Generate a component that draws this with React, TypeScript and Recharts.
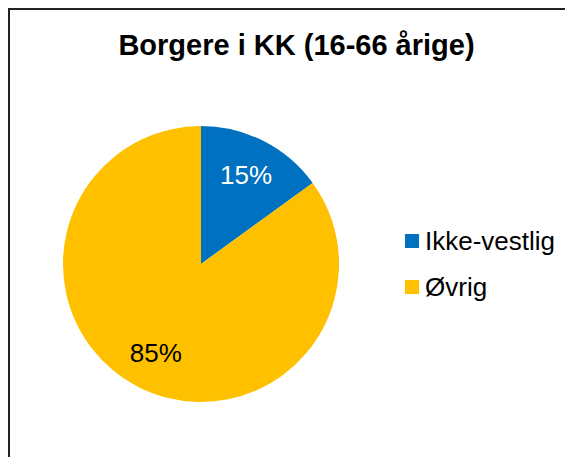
import { PieChart, Pie, Cell, Legend } from "recharts";

const categories = ["Ikke-vestlig", "Øvrig"];
const shares = [15, 85];
const sliceColors = ["#0070C0", "#FFC000"];
const labelColors = ["#ffffff", "#000000"];

const data = categories.map((name, i) => ({ name, value: shares[i] }));

const FONT = "'Liberation Sans', Arial, sans-serif";
const RAD = Math.PI / 180;

const renderLabel = (props: any) => {
    const { cx, cy, midAngle, outerRadius, percent, index } = props;
    const r = outerRadius * 0.72;
    const x = cx + r * Math.cos(-midAngle * RAD);
    const y = cy + r * Math.sin(-midAngle * RAD);
    return (
        <text
            x={x}
            y={y}
            fill={labelColors[index]}
            fontSize={26}
            fontFamily={FONT}
            textAnchor="middle"
            dominantBaseline="central"
        >
            {`${Math.round(percent * 100)}%`}
        </text>
    );
};

const renderLegend = (props: any) => {
    const { payload } = props;
    return (
        <div style={{ fontFamily: FONT }}>
            {payload.map((entry: any, i: number) => (
                <div key={i} style={{ display: "flex", alignItems: "center", height: 46 }}>
                    <span
                        style={{
                            display: "inline-block",
                            width: 14,
                            height: 14,
                            background: sliceColors[i],
                            marginRight: 6,
                        }}
                    />
                    <span style={{ fontSize: 26, color: "#000" }}>{entry.value}</span>
                </div>
            ))}
        </div>
    );
};

export default function App() {
    return (
        <div
            style={{
                position: "relative",
                width: 565,
                height: 449,
                boxSizing: "border-box",
                borderLeft: "2px solid #222",
                borderTop: "2px solid #222",
                background: "#fff",
            }}
        >
            <div
                style={{
                    position: "absolute",
                    left: 0,
                    width: 573,
                    top: 19,
                    textAlign: "center",
                    fontFamily: FONT,
                    fontWeight: "bold",
                    fontSize: 29,
                    color: "#000",
                }}
            >
                Borgere i KK (16-66 årige)
            </div>
            <PieChart width={563} height={447}>
                <Pie
                    data={data}
                    dataKey="value"
                    nameKey="name"
                    cx={186}
                    cy={249}
                    outerRadius={138}
                    startAngle={90}
                    endAngle={-270}
                    stroke="none"
                    label={renderLabel}
                    labelLine={false}
                    isAnimationActive={false}
                >
                    {data.map((_, i) => (
                        <Cell key={i} fill={sliceColors[i]} />
                    ))}
                </Pie>
                <Legend
                    layout="vertical"
                    align="right"
                    verticalAlign="top"
                    content={renderLegend}
                    wrapperStyle={{ left: 395, top: 208, width: 168 }}
                />
            </PieChart>
        </div>
    );
}
